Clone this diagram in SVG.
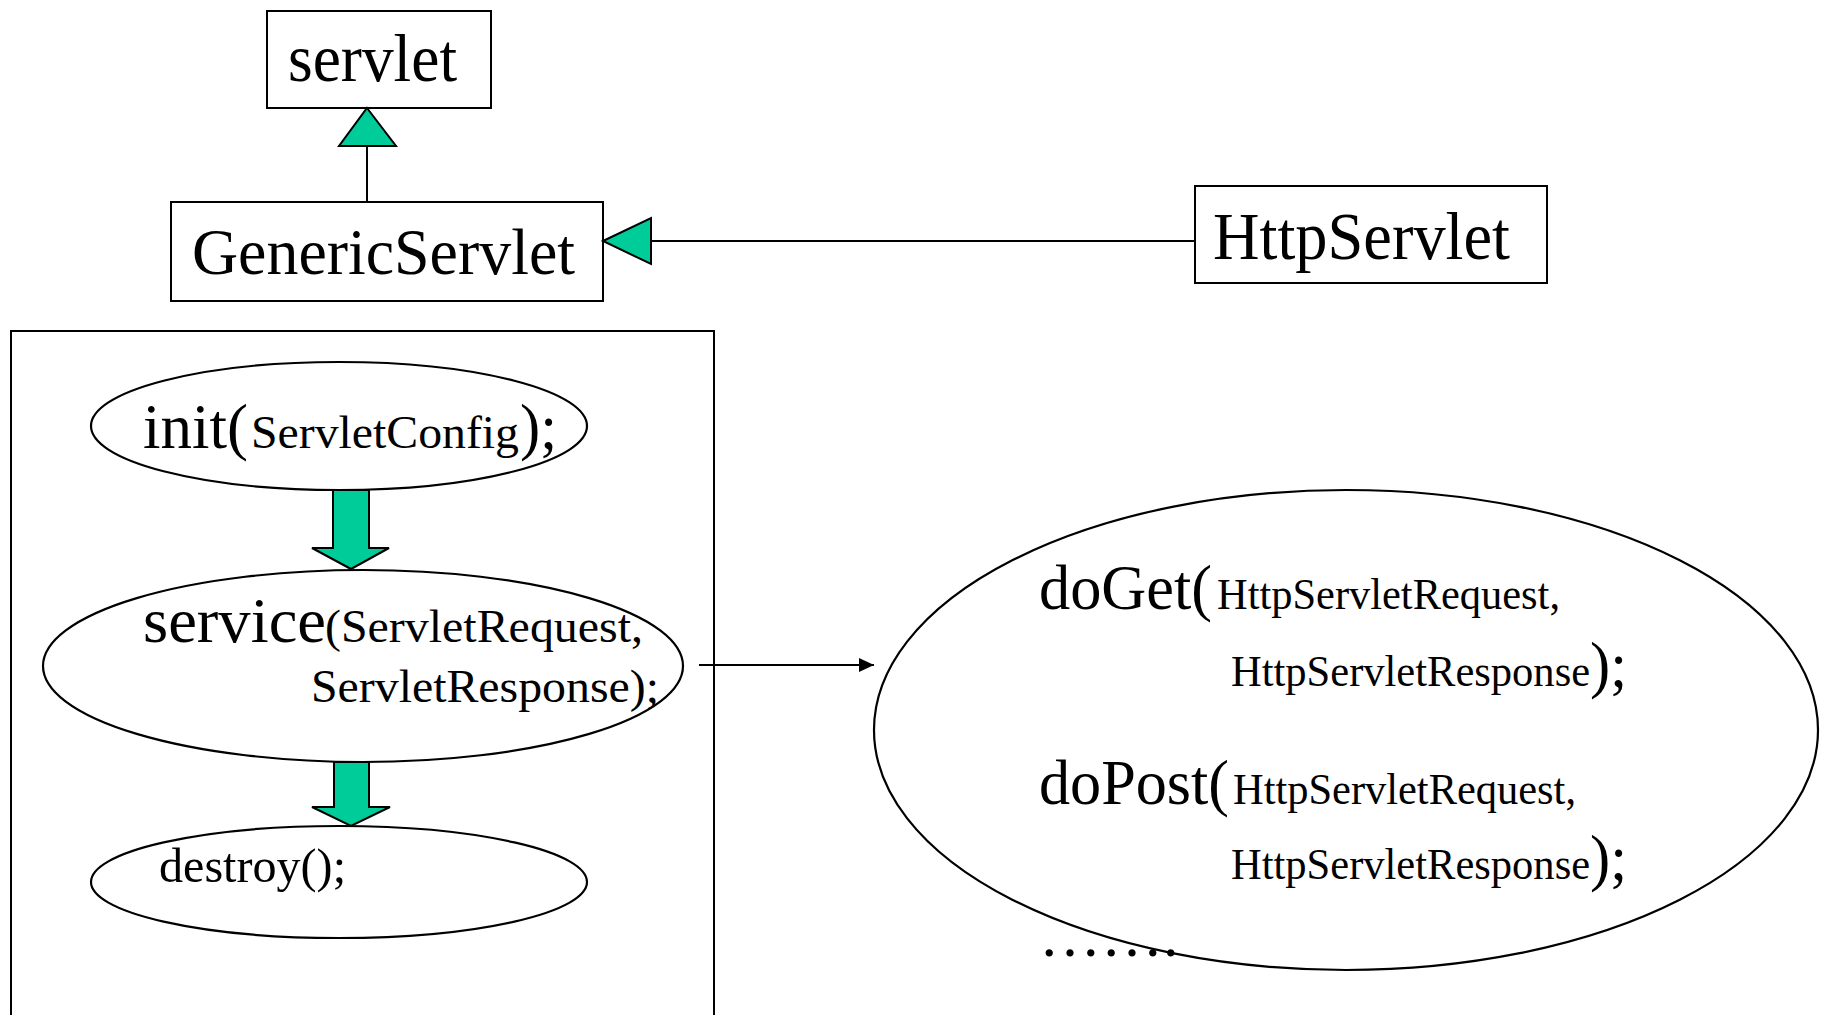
<svg xmlns="http://www.w3.org/2000/svg" width="1828" height="1015" viewBox="0 0 1828 1015">
<style>
.box{fill:#fff;stroke:#000;stroke-width:2}
.ell{fill:none;stroke:#000;stroke-width:2.2}
.t{font-family:"Liberation Serif","Times New Roman",serif;fill:#000}
.big{font-size:64px}
.sm{font-size:47px}
.hs{font-size:45px}
.tri{fill:#00CC99;stroke:#000;stroke-width:2;stroke-linejoin:miter}
.blk{fill:#00CC99;stroke:#000;stroke-width:2}
.ln{stroke:#000;stroke-width:2;fill:none}
</style>
<defs>
<marker id="ah" markerWidth="16" markerHeight="14" refX="15" refY="7" orient="auto" markerUnits="userSpaceOnUse">
<path d="M0,0 L15,7 L0,14 Z" fill="#000"/>
</marker>
</defs>
<rect x="0" y="0" width="1828" height="1015" fill="#fff"/>

<g id="lifecycle-frame">
<path class="ln" d="M11,1020 L11,331 L714,331 L714,1020"/>
</g>

<g id="servlet">
<rect class="box" x="267" y="11" width="224" height="97"/>
<text class="t" x="288" y="81" font-size="68" textLength="169" lengthAdjust="spacingAndGlyphs">servlet</text>
</g>

<g id="GenericServlet">
<rect class="box" x="171" y="202" width="432" height="99"/>
<text class="t" x="192" y="274" font-size="66" textLength="383" lengthAdjust="spacingAndGlyphs">GenericServlet</text>
</g>

<g id="HttpServlet">
<rect class="box" x="1195" y="186" width="352" height="97"/>
<text class="t" x="1213" y="259" font-size="68" textLength="297" lengthAdjust="spacingAndGlyphs">HttpServlet</text>
</g>

<g id="init">
<ellipse class="ell" cx="339" cy="426" rx="248" ry="64"/>
<text class="t big" x="143" y="448" textLength="105" lengthAdjust="spacingAndGlyphs">init(</text>
<text class="t sm" x="251" y="448" textLength="268" lengthAdjust="spacingAndGlyphs">ServletConfig</text>
<text class="t big" x="520" y="448" textLength="37" lengthAdjust="spacingAndGlyphs">);</text>
</g>

<g id="service">
<ellipse class="ell" cx="363" cy="666" rx="320" ry="96"/>
<text class="t big" x="143" y="642" textLength="183" lengthAdjust="spacingAndGlyphs">service</text>
<text class="t sm" x="325" y="642" textLength="318" lengthAdjust="spacingAndGlyphs">(ServletRequest,</text>
<text class="t sm" x="311" y="702" textLength="348" lengthAdjust="spacingAndGlyphs">ServletResponse);</text>
</g>

<g id="destroy">
<ellipse class="ell" cx="339" cy="882" rx="248" ry="56"/>
<text class="t" x="159" y="882" font-size="48" textLength="187" lengthAdjust="spacingAndGlyphs">destroy();</text>
</g>

<g id="http-methods">
<ellipse class="ell" cx="1346" cy="730" rx="472" ry="240"/>
<text class="t big" x="1039" y="609" textLength="173" lengthAdjust="spacingAndGlyphs">doGet(</text>
<text class="t hs" x="1217" y="609" textLength="343" lengthAdjust="spacingAndGlyphs">HttpServletRequest,</text>
<text class="t" x="1231" y="686" textLength="396" lengthAdjust="spacingAndGlyphs"><tspan class="hs">HttpServletResponse</tspan><tspan class="big">);</tspan></text>
<text class="t big" x="1039" y="804" textLength="190" lengthAdjust="spacingAndGlyphs">doPost(</text>
<text class="t hs" x="1233" y="804" textLength="343" lengthAdjust="spacingAndGlyphs">HttpServletRequest,</text>
<text class="t" x="1231" y="879" textLength="396" lengthAdjust="spacingAndGlyphs"><tspan class="hs">HttpServletResponse</tspan><tspan class="big">);</tspan></text>
<text class="t" x="1039" y="956" font-size="62">…….</text>
</g>

<g id="connectors">
<line class="ln" x1="367" y1="146" x2="367" y2="202"/>
<polygon class="tri" points="367,108 396,146 339,146"/>
<line class="ln" x1="651" y1="241" x2="1195" y2="241"/>
<polygon class="tri" points="603,241 651,218 651,264"/>
<polygon class="blk" points="333,490 369,490 369,548 389,548 351,569 312,548 333,548"/>
<polygon class="blk" points="334,762 369,762 369,807 390,807 351,826 312,807 334,807"/>
<line class="ln" x1="699" y1="665" x2="874" y2="665" marker-end="url(#ah)"/>
</g>
</svg>
